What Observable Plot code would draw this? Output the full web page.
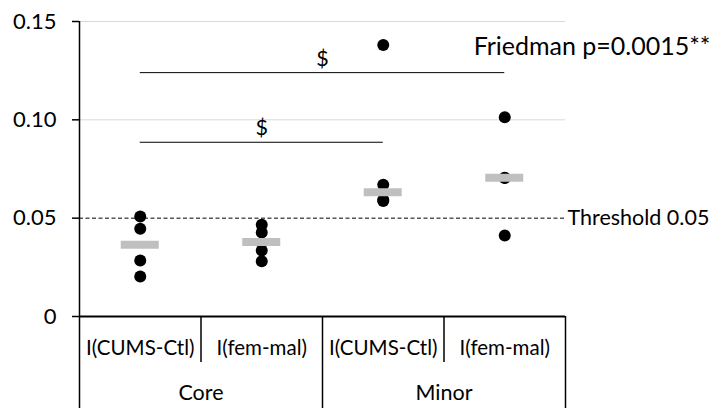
<!DOCTYPE html>
<html>
<head>
<meta charset="utf-8">
<script src="https://cdn.jsdelivr.net/npm/d3@7"></script>
<script src="https://cdn.jsdelivr.net/npm/@observablehq/plot@0.6"></script>
<style>
  html, body { margin: 0; padding: 0; background: #fff; }
</style>
</head>
<body>
<div id="chart"></div>
<script>
// ---- data ----
const groups = ["Core", "Minor"];
const comparisons = ["I(CUMS-Ctl)", "I(fem-mal)", "I(CUMS-Ctl)", "I(fem-mal)"];
const coreCumsCtl = [0.0508, 0.0446, 0.0285, 0.0203];
const coreFemMal = [0.0467, 0.0427, 0.0336, 0.0281];
const minorCumsCtl = [0.1380, 0.0670, 0.0594, 0.0587];
const minorFemMal = [0.1013, 0.0706, 0.0704, 0.0412];
const medians = [0.0365, 0.0379, 0.0632, 0.0705];
const yTicks = [0, 0.05, 0.10, 0.15];
const threshold = 0.05;
const thresholdLabel = "Threshold 0.05";
const friedmanLabel = "Friedman p=0.0015**";
const brackets = [
  {from: 0, to: 3, y: 0.124, label: "$"},
  {from: 0, to: 2, y: 0.0886, label: "$"}
];

// ---- build tables ----
const series = [coreCumsCtl, coreFemMal, minorCumsCtl, minorFemMal];
const pos = i => i + 0.5;
const points = series.flatMap((vals, i) => vals.map(v => ({pos: pos(i), value: v})));
const medianRows = medians.map((m, i) => ({pos: pos(i), value: m}));
const subLabels = comparisons.map((c, i) => ({pos: pos(i), text: c}));
const groupLabels = groups.map((g, i) => ({pos: 2 * i + 1, text: g}));
const bracketRows = brackets.map(b => ({x1: pos(b.from), x2: pos(b.to), y: b.y, mid: (pos(b.from) + pos(b.to)) / 2, label: b.label}));

const FONT = "Lato";
const FS = 21.5;

const chart = Plot.plot({
  width: 721,
  height: 413,
  marginLeft: 79,
  marginRight: 156,
  marginTop: 21,
  marginBottom: 97,
  style: {fontFamily: FONT, fontSize: FS + "px", color: "#000", background: "#fff", overflow: "visible"},
  x: {domain: [0, 4], axis: null},
  y: {domain: [0, 0.15], axis: null},
  marks: [
    // gridlines
    Plot.ruleY([0.10, 0.15], {stroke: "#d9d9d9", strokeWidth: 1}),
    // threshold
    Plot.ruleY([threshold], {stroke: "#000", strokeWidth: 1, strokeDasharray: "4,2.5"}),
    Plot.text([thresholdLabel], {x: 4, y: threshold, text: d => d, textAnchor: "start", dx: 2, fontSize: 21.5, fill: "#000"}),
    // y axis
    Plot.axisY({ticks: yTicks, tickSize: 7, tickPadding: 16, fontSize: 22, tickFormat: d => d === 0 ? "0" : d3.format(".2f")(d), strokeWidth: 1.5}),
    Plot.ruleX([0], {y1: 0.15, y2: 0, insetBottom: -92, stroke: "#000", strokeWidth: 1.5}),
    // x axis line
    Plot.ruleY([0], {stroke: "#000", strokeWidth: 2}),
    // category dividers
    Plot.ruleX([1, 3], {y1: 0, y2: 0, insetBottom: -46, stroke: "#000", strokeWidth: 1.5}),
    Plot.ruleX([2, 4], {y1: 0, y2: 0, insetBottom: -92, stroke: "#000", strokeWidth: 1.5}),
    // category labels
    Plot.text(subLabels, {x: "pos", y: 0, text: "text", dy: 32, fontSize: 20.5, fill: "#000"}),
    Plot.text(groupLabels, {x: "pos", y: 0, text: "text", dy: 77, fontSize: 21.5, fill: "#000"}),
    // brackets
    Plot.ruleY(bracketRows, {x1: "x1", x2: "x2", y: "y", stroke: "#000", strokeWidth: 1}),
    Plot.text(bracketRows, {x: "mid", y: "y", text: "label", dy: -14, fontSize: 21.5, fill: "#000"}),
    // data
    Plot.dot(points, {x: "pos", y: "value", r: 6, fill: "#000", stroke: null}),
    Plot.ruleY(medianRows, {x1: "pos", x2: "pos", y: "value", insetLeft: -19, insetRight: -19, stroke: "#bfbfbf", strokeWidth: 8}),
    // Friedman annotation
    Plot.text([friedmanLabel], {x: 4, y: 0.1368, text: d => d, textAnchor: "end", dx: 145, fontSize: 25, fill: "#000"})
  ]
});
document.getElementById("chart").appendChild(chart);
</script>
</body>
</html>
